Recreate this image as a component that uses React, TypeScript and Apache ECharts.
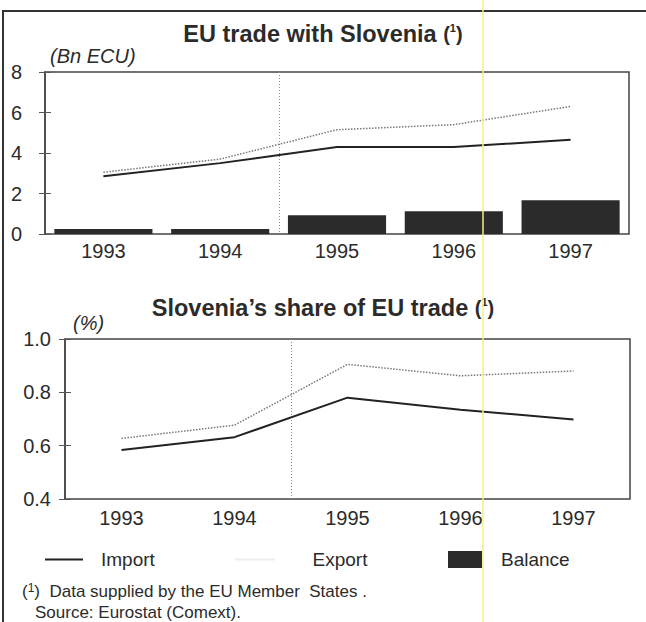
import React, { useEffect, useRef } from "react";
import * as echarts from "echarts";

const years = ["1993", "1994", "1995", "1996", "1997"];
const tradeImport = [2.85, 3.5, 4.3, 4.3, 4.65];
const tradeExport = [3.05, 3.7, 5.15, 5.4, 6.3];
const tradeBalance = [0.25, 0.25, 0.92, 1.12, 1.67];
const shareImport = [0.584, 0.632, 0.78, 0.735, 0.698];
const shareExport = [0.627, 0.677, 0.905, 0.862, 0.88];
const topTicks = { min: 0, max: 8, interval: 2 };
const bottomTicks = { min: 0.4, max: 1.0, interval: 0.2 };

const FONT = "'Liberation Sans', Arial, sans-serif";
const DARK = "#2b2b2b";

export default function App() {
  const ref = useRef<HTMLDivElement>(null);
  useEffect(() => {
    document.body.style.margin = "0";
    const chart = echarts.init(ref.current!, null, { renderer: "svg" });
    const axisLabel = { color: DARK, fontSize: 20, fontFamily: FONT };
    const xBase = {
      type: "category" as const,
      data: years,
      boundaryGap: true,
      axisLine: { show: false },
      axisTick: { show: false },
      splitLine: { show: false },
    };
    const yMain = (gi: number, t: any, fmt: (v: number) => string, margin: number) => ({
      type: "value" as const,
      gridIndex: gi,
      min: t.min,
      max: t.max,
      interval: t.interval,
      axisLine: { show: true, lineStyle: { color: "#444", width: 1.5 } },
      axisTick: { show: true, inside: false, length: 6, lineStyle: { color: "#555" } },
      splitLine: { show: false },
      axisLabel: { ...axisLabel, margin, formatter: fmt },
    });
    const yInner = (gi: number, t: any) => ({
      type: "value" as const,
      gridIndex: gi,
      position: "left" as const,
      min: t.min,
      max: t.max,
      interval: t.interval,
      axisLine: { show: false },
      axisTick: { show: true, inside: true, length: 6, lineStyle: { color: "#555" } },
      splitLine: { show: false },
      axisLabel: { show: false },
    });
    const importStyle = { color: "#222", width: 2, type: "solid" as const };
    const exportStyle = { color: "#777", width: 1.5, type: "dotted" as const };
    const titleRich = {
      b: { fontFamily: FONT, fontSize: 23.5, fontWeight: "bold", color: DARK },
      n: { fontFamily: FONT, fontSize: 20, color: DARK },
      s: { fontFamily: FONT, fontSize: 11, color: DARK, verticalAlign: "top", padding: [0, 0, 9, 0] },
    };
    const legendText = { fontFamily: FONT, fontSize: 19, color: DARK };

    const baseGraphic: any[] = [
      {
        type: "rect",
        shape: { x: 3, y: 11, width: 700, height: 700 },
        style: { fill: "none", stroke: "#333", lineWidth: 2 },
        silent: true,
      },
      {
        type: "line",
        shape: { x1: 483, y1: 0, x2: 483, y2: 622 },
        style: { stroke: "#f7f07a", lineWidth: 1.5 },
        silent: true,
        z: 100,
      },
      {
        type: "text",
        left: 50,
        top: 46,
        style: { text: "(Bn ECU)", fontFamily: FONT, fontSize: 20, fontStyle: "italic", fill: DARK },
      },
      {
        type: "text",
        left: 73,
        top: 313,
        style: { text: "(%)", fontFamily: FONT, fontSize: 20, fontStyle: "italic", fill: DARK },
      },
      {
        type: "text",
        left: 22,
        top: 582,
        style: {
          text: "{n|(}{s|1}{n|)  Data supplied by the EU Member  States .}",
          rich: {
            n: { fontFamily: FONT, fontSize: 17, fill: DARK },
            s: { fontFamily: FONT, fontSize: 12, fill: DARK, verticalAlign: "top", padding: [0, 0, 6, 0] },
          },
        },
      },
      {
        type: "text",
        left: 35,
        top: 604,
        style: { text: "Source: Eurostat (Comext).", fontFamily: FONT, fontSize: 17, fill: DARK },
      },
    ];

    chart.setOption({
      animation: false,
      backgroundColor: "#ffffff",
      title: [
        { text: "{b|EU trade with Slovenia }{n|(}{s|1}{n|)}", left: "center", top: 17, textStyle: { rich: titleRich } },
        { text: "{b|Slovenia’s share of EU trade }{n|(}{s|1}{n|)}", left: "center", top: 291, textStyle: { rich: titleRich } },
      ],
      grid: [
        { left: 45, top: 72, width: 584, height: 162, show: true, borderColor: "#444", borderWidth: 1.5 },
        { left: 65, top: 339, width: 565, height: 160, show: true, borderColor: "#444", borderWidth: 1.5 },
      ],
      xAxis: [
        { ...xBase, gridIndex: 0, axisLabel: { ...axisLabel, margin: 7 } },
        { ...xBase, gridIndex: 1, axisLabel: { ...axisLabel, margin: 9 } },
      ],
      yAxis: [
        yMain(0, topTicks, (v: number) => String(v), 23),
        yMain(1, bottomTicks, (v: number) => v.toFixed(1), 14),
        yInner(0, topTicks),
        yInner(1, bottomTicks),
      ],
      legend: [
        {
          data: [{ name: "Import", icon: "path://M0,0L40,0L40,2L0,2Z" }],
          left: 40, top: 545, itemWidth: 38, itemHeight: 2, itemGap: 0,
          textStyle: { ...legendText, padding: [0, 0, 0, 13] },
          selectedMode: false,
        },
        {
          data: [{ name: "Export", icon: "path://M0,0L40,0L40,2L0,2Z", itemStyle: { color: "#eeeeee" } }],
          left: 230, top: 545, itemWidth: 55, itemHeight: 2,
          textStyle: { ...legendText, padding: [0, 0, 0, 25] },
          selectedMode: false,
        },
        {
          data: [{ name: "Balance", icon: "rect" }],
          left: 443, top: 545, itemWidth: 34, itemHeight: 17,
          textStyle: { ...legendText, padding: [0, 0, 0, 14] },
          selectedMode: false,
        },
      ],
      graphic: baseGraphic,
      series: [
        {
          name: "Balance",
          type: "bar",
          xAxisIndex: 0,
          yAxisIndex: 0,
          data: tradeBalance,
          barCategoryGap: "16%",
          itemStyle: { color: DARK },
        },
        {
          name: "Import", type: "line", xAxisIndex: 0, yAxisIndex: 0, data: tradeImport,
          symbol: "none", lineStyle: importStyle, itemStyle: { color: "#222" },
        },
        {
          name: "Export", type: "line", xAxisIndex: 0, yAxisIndex: 0, data: tradeExport,
          symbol: "none", lineStyle: exportStyle, itemStyle: { color: "#eeeeee" },
        },
        {
          name: "Import", type: "line", xAxisIndex: 1, yAxisIndex: 1, data: shareImport,
          symbol: "none", lineStyle: importStyle, itemStyle: { color: "#222" },
        },
        {
          name: "Export", type: "line", xAxisIndex: 1, yAxisIndex: 1, data: shareExport,
          symbol: "none", lineStyle: exportStyle, itemStyle: { color: "#eeeeee" },
        },
      ],
    });

    // separator between 1994 and 1995 in each panel, placed through the axes
    const sep = (xi: number, yi: number, t: any) => {
      const a = chart.convertToPixel({ xAxisIndex: xi }, years[1]) as number;
      const b = chart.convertToPixel({ xAxisIndex: xi }, years[2]) as number;
      const y1 = chart.convertToPixel({ yAxisIndex: yi }, t.max) as number;
      const y2 = chart.convertToPixel({ yAxisIndex: yi }, t.min) as number;
      const x = Math.round((a + b) / 2) + 0.5;
      return {
        type: "line",
        shape: { x1: x, y1, x2: x, y2 },
        style: { stroke: "#888", lineWidth: 1, lineDash: [1, 2] },
        silent: true,
        z: 1,
      };
    };
    chart.setOption({ graphic: [...baseGraphic, sep(0, 0, topTicks), sep(1, 1, bottomTicks)] });

    return () => chart.dispose();
  }, []);
  return <div ref={ref} style={{ width: 646, height: 622 }} />;
}
